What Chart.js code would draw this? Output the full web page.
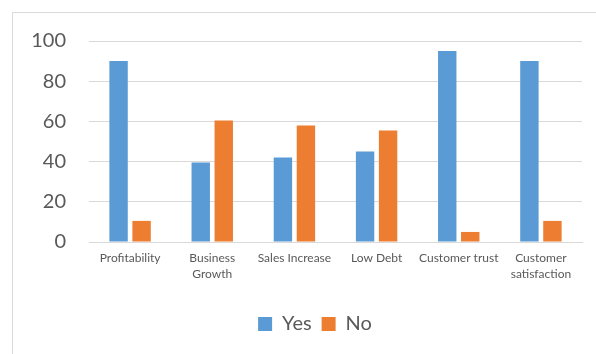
<!DOCTYPE html>
<html>
<head>
<meta charset="utf-8">
<script src="https://cdn.jsdelivr.net/npm/chart.js@4"></script>
<style>
  body { margin: 0; background: #fff; overflow: hidden; }
  .frame { position: absolute; left: 12px; top: 12px; width: 700px; height: 400px; border: 1px solid #d9d9d9; }
  .wrap { position: absolute; left: 0; top: 0; width: 596px; height: 354px; }
</style>
</head>
<body>
<div class="frame"></div>
<div class="wrap"><canvas id="chart"></canvas></div>
<script>
// Chart data
const categories = [
    'Profitability',
    ['Business', 'Growth'],
    'Sales Increase',
    'Low Debt',
    'Customer trust',
    ['Customer', 'satisfaction']
];
const yesValues = [90, 39.5, 42, 45, 95, 90];
const noValues = [10.5, 60.5, 58, 55.5, 5, 10.5];
const yTicks = [0, 20, 40, 60, 80, 100];

const textColor = '#595959';
const gridColor = '#d9d9d9';

// nudge the legend to the right, like the original
const legendShift = {
    id: 'legendShift',
    afterLayout(chart) {
        chart.legend.left += 24;
        chart.legend.right += 24;
    }
};

const ctx = document.getElementById('chart').getContext('2d');
new Chart(ctx, {
    type: 'bar',
    data: {
        labels: categories,
        datasets: [{
            label: 'Yes',
            data: yesValues,
            backgroundColor: '#5b9bd5',
            categoryPercentage: 0.56,
            barPercentage: 0.8
        }, {
            label: 'No',
            data: noValues,
            backgroundColor: '#ed7d31',
            categoryPercentage: 0.56,
            barPercentage: 0.8
        }]
    },
    options: {
        responsive: true,
        maintainAspectRatio: false,
        animation: false,
        layout: {
            padding: { top: 41, right: 14, bottom: 10, left: 0 }
        },
        plugins: {
            tooltip: { enabled: false },
            legend: {
                position: 'bottom',
                labels: {
                    boxWidth: 14,
                    boxHeight: 14,
                    padding: 10,
                    color: textColor,
                    font: { family: 'Lato', size: 20 }
                }
            }
        },
        scales: {
            x: {
                grid: { display: false, drawTicks: false },
                border: { color: gridColor, width: 1 },
                ticks: {
                    color: textColor,
                    padding: 8,
                    maxRotation: 0,
                    autoSkip: false,
                    font: { family: 'Lato', size: 12, lineHeight: 1.33 }
                },
                afterFit: scale => { scale.height = 62; }
            },
            y: {
                min: 0,
                max: 100,
                afterBuildTicks: scale => {
                    scale.ticks = yTicks.map(v => ({ value: v }));
                },
                grid: { color: gridColor, lineWidth: 1, drawTicks: false },
                border: { display: false },
                ticks: {
                    color: textColor,
                    padding: 23,
                    font: { family: 'Lato', size: 20 }
                },
                afterFit: scale => { scale.width = 89; }
            }
        }
    },
    plugins: [legendShift]
});
</script>
</body>
</html>
